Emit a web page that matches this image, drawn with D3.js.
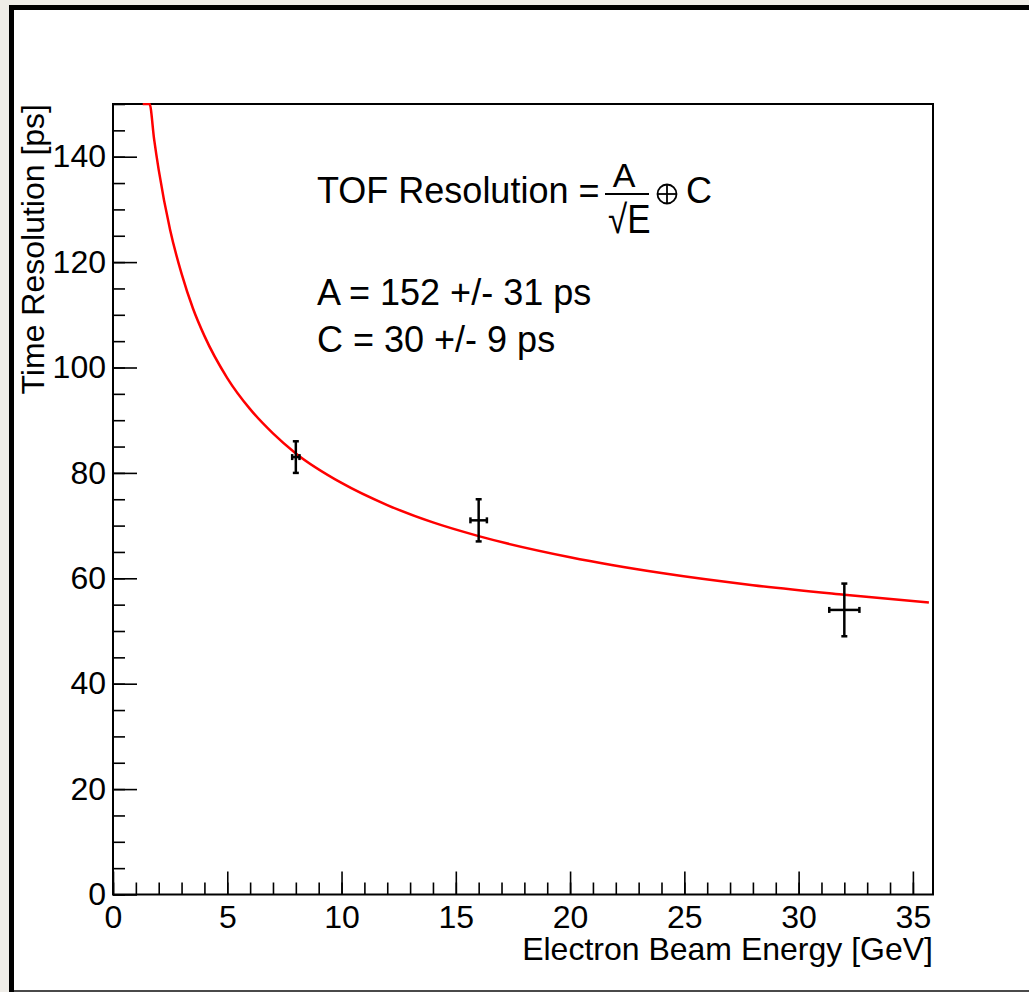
<!DOCTYPE html>
<html>
<head>
<meta charset="utf-8">
<script src="https://cdn.jsdelivr.net/npm/d3@7"></script>
<style>
  body { margin: 0; background: #efede8; }
  svg text { font-family: "Liberation Sans", Arial, Helvetica, sans-serif; fill: #000; }
</style>
</head>
<body>
<div id="chart"></div>
<script>
// measured points (energy in GeV, time resolution in ps)
var energy = [8, 16, 32];
var resolution = [83, 71, 54];
var energy_err = [0.16, 0.36, 0.66];
var resolution_err = [3, 4, 5];

// fitted curve
var fit_energy = [1.3, 1.6, 1.8, 2, 2.5, 3, 3.5, 4, 5, 6, 7, 8, 10, 12, 14, 16, 20, 24, 28, 32, 35.7];
var fit_resolution = [150, 150, 143.3, 137.5, 126.1, 117.8, 111.2, 106, 98, 92.1, 87.5, 83.7, 78.1, 73.9, 70.6, 68, 64, 61, 58.7, 56.9, 55.4];

var x_major = [0, 5, 10, 15, 20, 25, 30, 35];
var y_major = [0, 20, 40, 60, 80, 100, 120, 140];

var width = 1029, height = 992;
var plot_left = 113, plot_right = 933, plot_top = 104, plot_bottom = 894.5;

var svg = d3.select("#chart").append("svg")
    .attr("width", width)
    .attr("height", height);

// window frame
svg.append("rect").attr("x", 9).attr("y", 5).attr("width", width - 9).attr("height", height - 5)
    .style("fill", "#ffffff");
svg.append("rect").attr("x", 9).attr("y", 5).attr("width", width - 9).attr("height", 5)
    .style("fill", "#000");
svg.append("rect").attr("x", 9).attr("y", 5).attr("width", 5).attr("height", height - 5)
    .style("fill", "#000");
svg.append("rect").attr("x", 14).attr("y", 990).attr("width", width - 14).attr("height", 2)
    .style("fill", "#4a4a4a");

var x = d3.scaleLinear().domain([0, 35.88]).range([plot_left, plot_right]);
var y = d3.scaleLinear().domain([0, 150]).range([plot_bottom, plot_top]);

// minor ticks first, then the major ones
var x_minor_axis = d3.axisBottom(x).tickValues(d3.range(0, 36, 1)).tickSize(-12).tickFormat("");
svg.append("g").attr("transform", "translate(0," + plot_bottom + ")").call(x_minor_axis);
var x_axis = d3.axisBottom(x).tickValues(x_major).tickSize(-23).tickPadding(10);
svg.append("g").attr("class", "xaxis").attr("transform", "translate(0," + plot_bottom + ")").call(x_axis);

var y_minor_axis = d3.axisLeft(y).tickValues(d3.range(0, 151, 5)).tickSize(-12).tickFormat("");
svg.append("g").attr("transform", "translate(" + plot_left + ",0)").call(y_minor_axis);
var y_axis = d3.axisLeft(y).tickValues(y_major).tickSize(-24).tickPadding(7);
svg.append("g").attr("class", "yaxis").attr("transform", "translate(" + plot_left + ",0)").call(y_axis);

svg.selectAll(".domain").remove();
svg.selectAll(".tick line").style("stroke", "#000").style("stroke-width", 1.6);
svg.selectAll(".tick text").style("font-size", "32px")
    .style("font-family", '"Liberation Sans", Arial, sans-serif');
svg.selectAll(".xaxis .tick text").attr("dy", "0.72em");

// frame
svg.append("rect")
    .attr("x", plot_left).attr("y", plot_top)
    .attr("width", plot_right - plot_left).attr("height", plot_bottom - plot_top)
    .style("fill", "none").style("stroke", "#000").style("stroke-width", 2);

// axis titles
svg.append("text")
    .attr("x", plot_right).attr("y", 960)
    .attr("text-anchor", "end")
    .style("font-size", "32px")
    .text("Electron Beam Energy [GeV]");
svg.append("text")
    .attr("transform", "translate(44," + plot_top + ") rotate(-90)")
    .attr("text-anchor", "end")
    .style("font-size", "32px")
    .text("Time Resolution [ps]");

// fit curve
svg.append("clipPath").attr("id", "plotclip")
    .append("rect").attr("x", plot_left).attr("y", plot_top - 1)
    .attr("width", plot_right - plot_left).attr("height", plot_bottom - plot_top + 1);
var fit_line = d3.line()
    .x(function (d, i) { return x(fit_energy[i]); })
    .y(function (d, i) { return y(fit_resolution[i]); })
    .curve(d3.curveMonotoneX);
svg.append("path")
    .datum(fit_energy)
    .attr("d", fit_line)
    .attr("clip-path", "url(#plotclip)")
    .style("fill", "none")
    .style("stroke", "#ff0000")
    .style("stroke-width", 2.5);

// error bars
var cap = 3;
var points = svg.append("g").style("stroke", "#000").style("stroke-width", 2.5);
energy.forEach(function (e, i) {
    var cx = x(e), cy = y(resolution[i]);
    var y1 = y(resolution[i] + resolution_err[i]), y2 = y(resolution[i] - resolution_err[i]);
    var x1 = x(e - energy_err[i]), x2 = x(e + energy_err[i]);
    points.append("line").attr("x1", cx).attr("x2", cx).attr("y1", y1).attr("y2", y2);
    points.append("line").attr("x1", x1).attr("x2", x2).attr("y1", cy).attr("y2", cy);
    points.append("line").attr("x1", cx - cap).attr("x2", cx + cap).attr("y1", y1).attr("y2", y1);
    points.append("line").attr("x1", cx - cap).attr("x2", cx + cap).attr("y1", y2).attr("y2", y2);
    points.append("line").attr("x1", x1).attr("x2", x1).attr("y1", cy - cap).attr("y2", cy + cap);
    points.append("line").attr("x1", x2).attr("x2", x2).attr("y1", cy - cap).attr("y2", cy + cap);
});

// fit annotation
var note = svg.append("g");
note.append("text").attr("x", 317).attr("y", 203).style("font-size", "36px")
    .text("TOF Resolution =");
note.append("line").attr("x1", 605).attr("x2", 649).attr("y1", 194).attr("y2", 194)
    .style("stroke", "#000").style("stroke-width", 2);
note.append("text").attr("x", 624).attr("y", 187).attr("text-anchor", "middle")
    .style("font-size", "34px").text("A");
note.append("text").attr("transform", "translate(608,233) scale(1,1.15)")
    .style("font-size", "35px").text("\u221aE");
var oplus = note.append("g").attr("transform", "translate(667,194)")
    .style("stroke", "#000").style("stroke-width", 1.8).style("fill", "none");
oplus.append("circle").attr("r", 9.5);
oplus.append("line").attr("x1", -9.5).attr("x2", 9.5);
oplus.append("line").attr("y1", -9.5).attr("y2", 9.5);
note.append("text").attr("x", 686).attr("y", 203).style("font-size", "36px").text("C");
note.append("text").attr("x", 317).attr("y", 305).style("font-size", "36px")
    .text("A = 152 +/- 31 ps");
note.append("text").attr("x", 317).attr("y", 352).style("font-size", "36px")
    .text("C = 30 +/- 9 ps");
</script>
</body>
</html>
